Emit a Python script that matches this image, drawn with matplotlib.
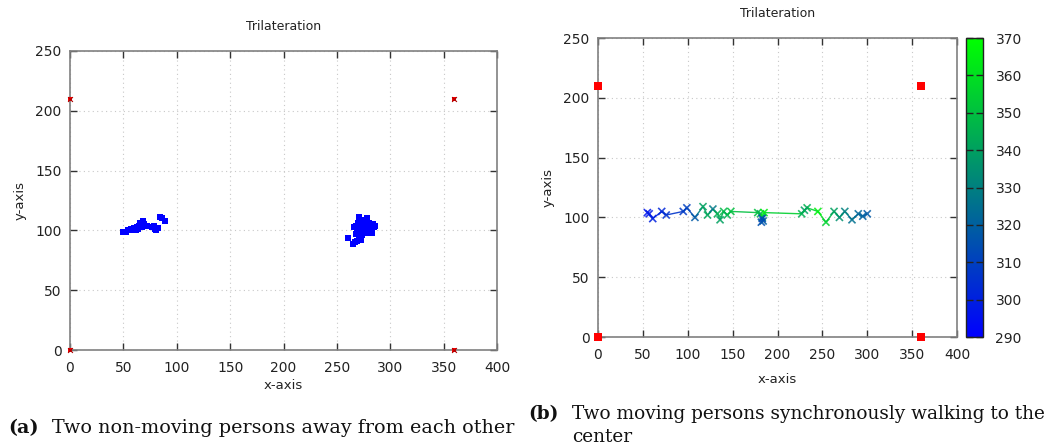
import numpy as np
import matplotlib
matplotlib.use('Agg')
import matplotlib.pyplot as plt
from matplotlib.colors import LinearSegmentedColormap, Normalize
from matplotlib.collections import LineCollection

# Anchor (reference node) positions
anchor_x = [0, 360, 0, 360]
anchor_y = [210, 210, 0, 0]

# (a) two static persons: estimated positions
static_x = [50, 52, 54, 56, 57, 59, 60, 62, 63, 64, 65, 66, 67, 68, 69, 70, 72, 77, 79, 80, 81, 82, 84, 86, 89,
            260, 265, 267, 269, 268, 270, 271, 272, 273, 274, 275, 276, 277, 278, 279, 280, 281, 282, 283, 285,
            270, 272, 274, 276, 278, 280, 283, 268, 271, 275, 279, 282, 266, 273,
            269, 271, 273, 275, 277, 279, 281, 284, 286, 274, 276, 278]
static_y = [99, 99, 100, 100, 101, 101, 102, 100, 103, 101, 104, 106, 103, 108, 105, 104, 104, 103, 104, 101, 100, 102, 111, 110, 108,
            94, 89, 90, 91, 104, 106, 111, 109, 108, 107, 109, 108, 107, 106, 105, 106, 104, 102, 103, 103,
            100, 98, 102, 100, 98, 101, 98, 97, 95, 104, 103, 99, 103, 92,
            102, 103, 105, 106, 102, 100, 101, 105, 104, 96, 98, 110]

# (b) two moving persons: positions and time stamp (colour value)
walk_a_x = [55, 57, 61, 71, 76, 95, 99, 108, 117, 122, 128, 133, 136, 140, 144, 148, 178, 181, 183]
walk_a_y = [104, 103, 99, 105, 102, 105, 108, 100, 109, 102, 107, 103, 98, 105, 102, 105, 104, 103, 100]
walk_a_t = [296, 298, 300, 302, 305, 308, 310, 318, 340, 342, 328, 345, 340, 348, 345, 350, 350, 345, 340]

walk_b_x = [300, 295, 290, 283, 275, 269, 263, 254, 245, 233, 230, 227, 185, 184, 182, 183]
walk_b_y = [103, 101, 103, 98, 105, 100, 105, 96, 105, 108, 106, 103, 104, 97, 96, 99]
walk_b_t = [318, 320, 322, 325, 330, 335, 340, 355, 365, 345, 340, 345, 365, 320, 315, 312]

cmap = LinearSegmentedColormap.from_list('bg', ['#0000ff', '#00ff00'])
norm = Normalize(290, 370)

W, H = 1062, 448
fig = plt.figure(figsize=(W / 100, H / 100), dpi=100)
txt = '#222222'
spine_c = '#808080'


def setup(ax, title, xlab_pad):
    ax.set_xlim(0, 400)
    ax.set_ylim(0, 250)
    ax.set_xticks(range(0, 401, 50))
    ax.set_yticks(range(0, 251, 50))
    ax.tick_params(direction='in', length=5, width=1, color='#333333', labelsize=10,
                   labelcolor=txt, top=True, right=True, pad=6)
    ax.tick_params(axis='x', pad=8)
    ax.grid(True, linestyle=(0, (1, 3)), color='#c8c8c8', linewidth=0.8)
    for s in ax.spines.values():
        s.set_color(spine_c)
        s.set_linewidth(1.2)
    ax.set_title(title, fontsize=9, color=txt, pad=15)
    ax.set_ylabel('y-axis', fontsize=9.5, color=txt, labelpad=6)
    ax.set_xlabel('x-axis', fontsize=9.5, color=txt, labelpad=xlab_pad)


def box(l, r, t, b):
    return [l / W, 1 - b / H, (r - l) / W, (b - t) / H]


# (a)
ax1 = fig.add_axes(box(70, 497, 51, 350))
setup(ax1, 'Trilateration', 3)
ax1.scatter(static_x, static_y, marker='s', s=22, color='#0000ff', linewidths=0, zorder=3)
ax1.scatter(anchor_x, anchor_y, marker='s', s=10, color='#ff0000', linewidths=0, zorder=4, clip_on=False)
ax1.scatter(anchor_x, anchor_y, marker='x', s=12, color='#aa0000', linewidths=0.8, zorder=5, clip_on=False)

# (b)
ax2 = fig.add_axes(box(598, 957, 38, 337))
setup(ax2, 'Trilateration', 8)
for xs, ys, ts in [(walk_a_x, walk_a_y, walk_a_t), (walk_b_x, walk_b_y, walk_b_t)]:
    pts = np.column_stack([xs, ys])
    segs = np.stack([pts[:-1], pts[1:]], axis=1)
    seg_c = (np.array(ts[:-1]) + np.array(ts[1:])) / 2
    lc = LineCollection(segs, cmap=cmap, norm=norm, linewidths=1.0, alpha=0.9, zorder=3)
    lc.set_array(seg_c)
    ax2.add_collection(lc)
    ax2.scatter(xs, ys, c=ts, cmap=cmap, norm=norm, marker='x', s=26, linewidths=1.2, alpha=0.85, zorder=4)
ax2.scatter(anchor_x, anchor_y, marker='s', s=30, color='#ff0000', linewidths=0, zorder=5, clip_on=False)

cax = fig.add_axes(box(966, 983, 38, 337))
sm = plt.cm.ScalarMappable(norm=norm, cmap=cmap)
cb = fig.colorbar(sm, cax=cax, ticks=range(290, 371, 10))
cb.outline.set_edgecolor('#222222')
cb.outline.set_linewidth(1.0)
cax.tick_params(direction='in', length=5, width=1, color='#222222', labelsize=10,
                labelcolor=txt, left=True, right=True, pad=9)

# captions
serif = 'DejaVu Serif'
fs_a = 13.8
fs_b = 13.3
fig.text(8 / W, 1 - 428 / H, '(a)', fontsize=fs_a, fontweight='bold', family=serif, va='center', color='#111111')
fig.text(52 / W, 1 - 428 / H, 'Two non-moving persons away from each other', fontsize=fs_a,
         family=serif, va='center', color='#111111')
fig.text(528 / W, 1 - 414 / H, '(b)', fontsize=fs_b, fontweight='bold', family=serif, va='center', color='#111111')
fig.text(572 / W, 1 - 414 / H, 'Two moving persons synchronously walking to the', fontsize=fs_b,
         family=serif, va='center', color='#111111')
fig.text(572 / W, 1 - 437 / H, 'center', fontsize=fs_b, family=serif, va='center', color='#111111')

fig.savefig('out.png', dpi=100)
